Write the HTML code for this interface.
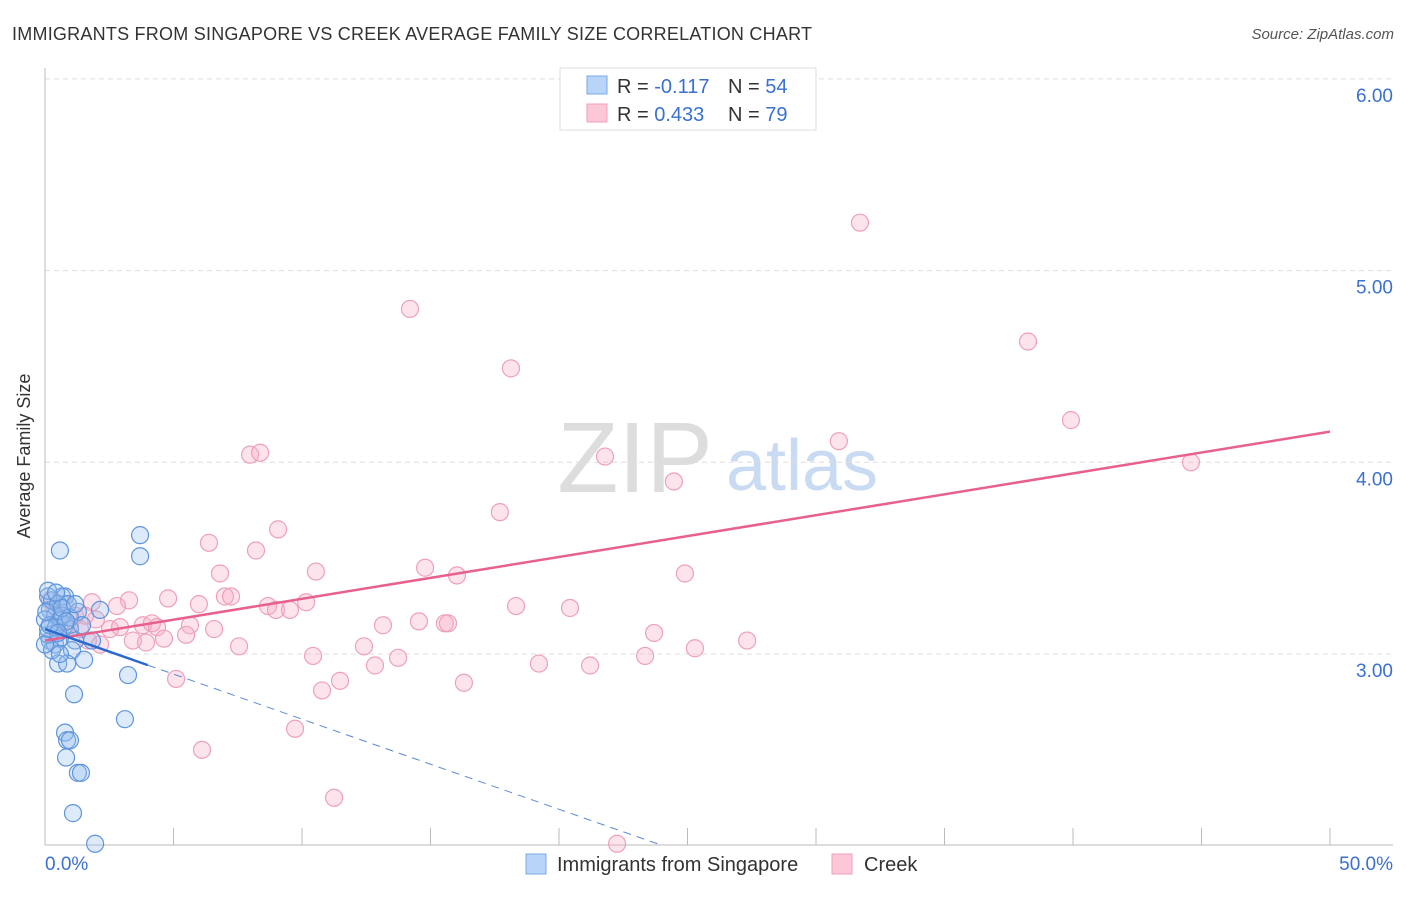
<!DOCTYPE html>
<html><head><meta charset="utf-8"><style>
body{margin:0;background:#fff;font-family:"Liberation Sans",sans-serif}
svg text{font-family:"Liberation Sans",sans-serif}
</style></head><body>
<svg id="c" width="1406" height="892" xmlns="http://www.w3.org/2000/svg">
<text x="12" y="40" font-size="18" fill="#333" textLength="800">IMMIGRANTS FROM SINGAPORE VS CREEK AVERAGE FAMILY SIZE CORRELATION CHART</text>
<text x="1394" y="39" font-size="15" fill="#555" font-style="italic" text-anchor="end">Source: ZipAtlas.com</text>
<text x="30" y="456" font-size="18" fill="#333" text-anchor="middle" transform="rotate(-90 30 456)">Average Family Size</text>
<g><text x="635" y="492" font-size="100" font-family="Liberation Serif" fill="#ddd" text-anchor="middle">ZIP</text><text x="802" y="490" font-size="72" fill="#c9dbf3" text-anchor="middle">atlas</text></g>
<g id="grid"></g><g id="axes"></g><g id="pts"></g><g id="trend"></g>
<g>
<rect x="560" y="68" width="256" height="62" fill="#fff" stroke="#ddd"/>
<rect x="587" y="76" width="20" height="18" fill="#b8d4f8" stroke="#7aa8e8"/>
<rect x="587" y="104" width="20" height="18" fill="#fcc8d8" stroke="#f0a0b8"/>
<text x="617" y="93" font-size="20" fill="#333">R = <tspan fill="#3a70d0">-0.117</tspan><tspan x="728">N = </tspan><tspan fill="#3a70d0">54</tspan></text>
<text x="617" y="121" font-size="20" fill="#333">R = <tspan fill="#3a70d0"> 0.433</tspan><tspan x="728">N = </tspan><tspan fill="#3a70d0">79</tspan></text>
</g>
<g>
<rect x="526" y="854" width="20" height="20" fill="#b8d4f8" stroke="#7aa8e8"/>
<text x="557" y="871" font-size="20" fill="#333">Immigrants from Singapore</text>
<rect x="832" y="854" width="20" height="20" fill="#fcc8d8" stroke="#f0a0b8"/>
<text x="864" y="871" font-size="20" fill="#333">Creek</text>
</g>
</svg>
<script>
const yTicks=[3,4,5,6];
const yTickLabels=["3.00","4.00","5.00","6.00"];
const blueX=[.58,3.70,3.70,.12,.66,.78,1.28,.19,.39,.58,.78,.97,.19,.39,.12,.58,1.17,1.83,1.05,.51,.86,1.52,3.23,1.13,3.11,.78,.86,.97,.82,1.28,1.40,1.09,1.95,.27,.51,0,.12,.43,.66,.89,.27,.58,0,.19,.97,.05,.12,.66,.43,.82,.51,1.17,2.14,1.44];
const blueY=[3.54,3.62,3.51,3.30,3.30,3.30,3.22,3.23,3.20,3.18,3.15,3.13,3.07,3.05,3.10,3.08,3.07,3.07,3.02,2.95,2.95,2.97,2.89,2.79,2.66,2.59,2.55,2.55,2.46,2.38,2.38,2.17,2.01,3.28,3.26,3.18,3.13,3.14,3.20,3.26,3.02,3.00,3.05,3.15,3.19,3.22,3.33,3.24,3.32,3.17,3.11,3.26,3.23,3.15];
const pinkX=[31.71,14.20,18.13,38.25,39.92,30.89,44.59,21.79,24.47,7.98,8.37,17.70,9.07,6.38,8.21,14.79,10.54,6.81,16.03,24.90,4.79,3.27,2.80,7.00,7.24,8.68,8.99,9.53,10.16,5.99,18.33,20.43,3.81,4.16,4.36,5.64,6.58,14.55,15.56,15.68,13.15,23.70,27.32,5.49,3.42,3.93,4.63,7.55,12.41,2.14,1.67,2.53,1.98,1.36,25.29,10.43,13.74,19.22,21.21,23.35,12.84,11.48,10.78,16.30,5.10,9.73,6.11,11.25,22.26,.19,.39,.78,.97,1.17,.58,1.56,2.92,1.83];
const pinkY=[5.25,4.80,4.49,4.63,4.22,4.11,4.00,4.03,3.90,4.04,4.05,3.74,3.65,3.58,3.54,3.45,3.43,3.42,3.41,3.42,3.29,3.28,3.25,3.30,3.30,3.25,3.23,3.23,3.27,3.26,3.25,3.24,3.15,3.16,3.14,3.15,3.13,3.17,3.16,3.16,3.15,3.11,3.07,3.10,3.07,3.06,3.08,3.04,3.04,3.05,3.07,3.13,3.18,3.13,3.03,2.99,2.98,2.95,2.94,2.99,2.94,2.86,2.81,2.85,2.87,2.61,2.50,2.25,2.01,3.28,3.22,3.26,3.15,3.20,3.13,3.20,3.14,3.27];
const blueTrend=[3.13,-0.047];
const pinkTrend=[3.07,0.0218];
const NS='http://www.w3.org/2000/svg';
const sx=v=>45+v*25.7, sy=v=>654-(v-3)*191.7;
function mk(p,t,a){const e=document.createElementNS(NS,t);for(const k in a)e.setAttribute(k,a[k]);document.getElementById(p).appendChild(e);return e;}
yTicks.forEach((t,i)=>{
 const g=mk('grid','line',{x1:45,x2:1393,y1:sy(t),y2:sy(t),stroke:'#ddd','stroke-dasharray':'5,4'});
 
 
 const l=mk('grid','text',{x:1393,y:sy(t)+23,'font-size':19,fill:'#3a70d0','text-anchor':'end'});
 l.textContent=yTickLabels[i];
 
 
});
mk('axes','line',{x1:45,x2:45,y1:68,y2:845,stroke:'#bbb'});
mk('axes','line',{x1:45,x2:1393,y1:845,y2:845,stroke:'#bbb'});
for(let i=1;i<=10;i++){const t=mk('axes','line',{x1:sx(i*5),x2:sx(i*5),y1:828,y2:845,stroke:'#bbb'});}
const x0=mk('axes','text',{x:45,y:870,'font-size':19,fill:'#3a70d0'});x0.textContent='0.0%';


const x1=mk('axes','text',{x:1393,y:870,'font-size':19,fill:'#3a70d0','text-anchor':'end'});x1.textContent='50.0%';


pinkX.forEach((x,i)=>{const c=mk('pts','circle',{cx:sx(x),cy:sy(pinkY[i]),r:8.5,fill:'rgba(248,170,195,0.32)',stroke:'#eea0ba','stroke-width':1.2});
 
 });
blueX.forEach((x,i)=>{const c=mk('pts','circle',{cx:sx(x),cy:sy(blueY[i]),r:8.5,fill:'rgba(150,190,240,0.32)',stroke:'#5f95dc','stroke-width':1.2});
 
 });
const pl=mk('trend','line',{x1:sx(0),y1:sy(pinkTrend[0]),x2:sx(50),y2:sy(pinkTrend[0]+50*pinkTrend[1]),stroke:'#e8608c','stroke-width':2.5});


const bs=mk('trend','line',{x1:sx(0),y1:sy(blueTrend[0]),x2:sx(4),y2:sy(blueTrend[0]+4*blueTrend[1]),stroke:'#2a6ad0','stroke-width':2.5});


const xe=(2-blueTrend[0])/blueTrend[1];
const bd=mk('trend','line',{x1:sx(4),y1:sy(blueTrend[0]+4*blueTrend[1]),x2:sx(xe),y2:sy(2),stroke:'#5a8ad8','stroke-width':1,'stroke-dasharray':'8,6'});


</script>
</body></html>
